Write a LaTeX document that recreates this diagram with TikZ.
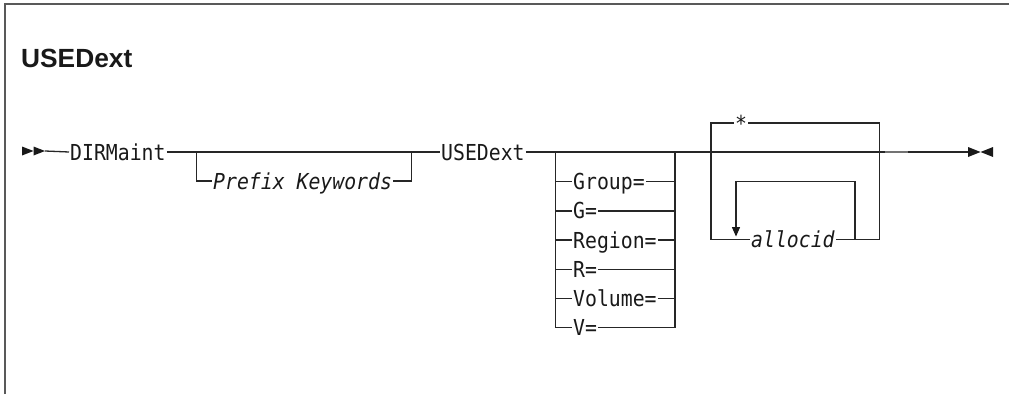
\documentclass[tikz,border=0pt]{standalone}
\usepackage{fontspec}
\setmainfont{Liberation Sans}
\newfontfamily\monofont[FakeStretch=0.9]{DejaVu Sans Mono}
\begin{document}
\begin{tikzpicture}[x=1pt,y=-1pt,
  ln/.style={draw=black!85, line width=1.3pt},
  frame/.style={draw=black!65, line width=2pt},
  lbl/.style={anchor=west, inner xsep=1pt, inner ysep=0pt, text height=16pt, text depth=0pt,
              font=\monofont\fontsize{22}{26}\selectfont, text=black!90},
  ilbl/.style={lbl, font=\monofont\itshape\fontsize{22}{26}\selectfont},
  tri/.style={fill=black!90}]
\useasboundingbox (0,0) rectangle (1009,394);
% frame
\draw[frame] (5,394) -- (5,4) -- (1009,4);
% title
\node[anchor=base west, inner sep=0pt, font=\bfseries\fontsize{26.3}{30}\selectfont, text=black!90] (title) at (21,67) {USEDext};
% start arrows
\coordinate (s0) at (22,151);
\coordinate (s1) at (45,151);
\fill[tri] (22,146.5) -- (33.5,151) -- (22,155.5) -- cycle;
\fill[tri] (33.5,146.5) -- (45,151) -- (33.5,155.5) -- cycle;
% labels on main line
\node[lbl] (dir) at (69,152) {DIRMaint};
\node[ilbl] (pre) at (212,181) {Prefix Keywords};
\node[lbl] (use) at (440,152) {USEDext};
% option stack
\node[lbl] (o1) at (572,181.7) {Group=};
\node[lbl] (o2) at (572,210.9) {G=};
\node[lbl] (o3) at (572,240) {Region=};
\node[lbl] (o4) at (572,269.3) {R=};
\node[lbl] (o5) at (572,298.5) {Volume=};
\node[lbl] (o6) at (572,327.7) {V=};
% star box
\node[lbl] (star) at (734,123) {*};
\node[ilbl] (alloc) at (750,239.3) {allocid};
% coordinates
\coordinate (pL) at (196.7,152);
\coordinate (pR) at (411.7,152);
\coordinate (gL) at (555.7,152);
\coordinate (gR) at (675,152);
\coordinate (sL) at (711,152);
\coordinate (sR) at (879.3,152);
\coordinate (e0) at (968,152);
% main line
\draw[ln] (s1) -- (dir.west);
\draw[ln] (dir.east) -- (use.west);
\draw[ln] (use.east) -- (e0);
% prefix branch
\draw[ln] (pL) -- (pL |- pre.west) -- (pre.west);
\draw[ln] (pre.east) -- (pR |- pre.east) -- (pR);
% option stack
\draw[ln] (gL) -- (gL |- o6.west) -- (o6.west);
\draw[ln] (o6.east) -- (gR |- o6.east) -- (gR);
\foreach \n in {o1,o2,o3,o4,o5}{
  \draw[ln] (gL |- \n.west) -- (\n.west);
  \draw[ln] (\n.east) -- (gR |- \n.east);
}
% star box
\draw[ln] (sL) -- (sL |- star.west) -- (star.west);
\draw[ln] (star.east) -- (sR |- star.east) -- (sR |- alloc.east) -- (alloc.east);
\draw[ln] (sL) -- (sL |- alloc.west) -- (alloc.west);
% repeat loop
\coordinate (rR) at (855,239.3);
\coordinate (rT) at (855,181.7);
\coordinate (rL) at (736,181.7);
\coordinate (rA) at (736,228);
\draw[ln] (rR) -- (rT) -- (rL) -- (rA);
\fill[tri] (731.8,227) -- (740.2,227) -- (736,236.5) -- cycle;
% artifact segment
\draw[draw=black!55, line width=2pt] (885,152) -- (908,152);
% end arrows
\fill[tri] (968,147) -- (980.5,152) -- (968,157) -- cycle;
\fill[tri] (993,147) -- (980.5,152) -- (993,157) -- cycle;
\end{tikzpicture}
\end{document}
